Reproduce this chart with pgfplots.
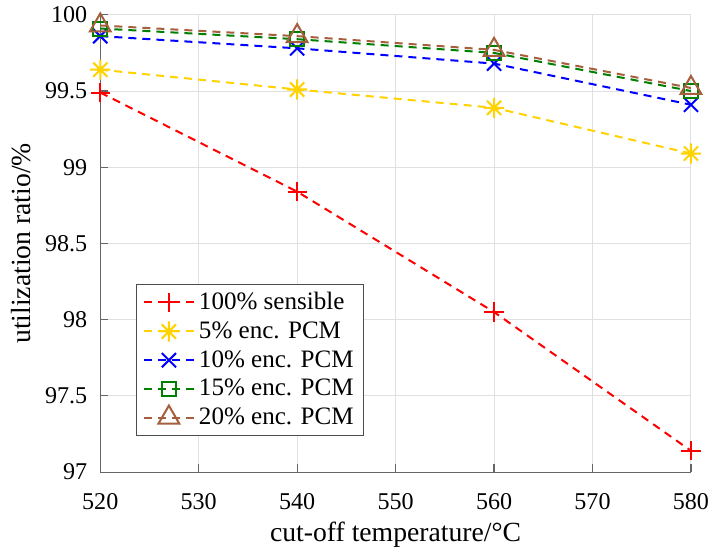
\documentclass[border=0pt]{standalone}
\usepackage{fontspec}
\setmainfont{Liberation Serif}
\usepackage{pgfplots}
\pgfplotsset{compat=1.18}
\definecolor{mred}{RGB}{255,0,0}
\definecolor{myel}{RGB}{255,210,0}
\definecolor{mblue}{RGB}{0,0,255}
\definecolor{mgreen}{RGB}{0,128,0}
\definecolor{mbrown}{RGB}{165,95,60}
\pgfdeclareplotmark{mstar}{%
  \pgfpathmoveto{\pgfqpoint{-\pgfplotmarksize}{0pt}}\pgfpathlineto{\pgfqpoint{\pgfplotmarksize}{0pt}}%
  \pgfpathmoveto{\pgfqpoint{0pt}{-\pgfplotmarksize}}\pgfpathlineto{\pgfqpoint{0pt}{\pgfplotmarksize}}%
  \pgfpathmoveto{\pgfqpoint{-0.707\pgfplotmarksize}{-0.707\pgfplotmarksize}}\pgfpathlineto{\pgfqpoint{0.707\pgfplotmarksize}{0.707\pgfplotmarksize}}%
  \pgfpathmoveto{\pgfqpoint{-0.707\pgfplotmarksize}{0.707\pgfplotmarksize}}\pgfpathlineto{\pgfqpoint{0.707\pgfplotmarksize}{-0.707\pgfplotmarksize}}%
  \pgfusepathqstroke}
\begin{document}
\begin{tikzpicture}
\begin{axis}[
  scale only axis,
  width=294.5pt, height=228pt,
  xmin=520, xmax=580, ymin=97, ymax=100,
  xtick={520,530,...,580},
  ytick={97,97.5,98,98.5,99,99.5,100},
  yticklabels={97,97.5,98,98.5,99,99.5,100},
  axis x line=bottom, axis y line=left,
  axis line style={-, draw=black!60, line width=0.6pt},
  tick align=inside,
  major tick length=4pt,
  tick style={black!60, line width=0.6pt},
  grid=major,
  grid style={black!12, line width=0.5pt},
  font=\fontsize{12}{14}\selectfont,
  /pgf/number format/assume math mode=true,
  /pgf/number format/.cd, 1000 sep={}, /pgfplots/.cd,
  xticklabel style={yshift=-7pt, inner xsep=0pt},
  yticklabel style={xshift=-3pt},
  xlabel={cut-off temperature/\textdegree C},
  ylabel={utilization ratio/\%},
  xlabel style={font=\fontsize{13.8}{15}\selectfont, inner ysep=0pt, yshift=-2.8pt},
  ylabel style={font=\fontsize{13.8}{15}\selectfont, yshift=0pt},
  legend style={at={(0.061,0.079)}, anchor=south west, draw=black!70, line width=0.5pt,
    font=\fontsize{12.5}{14}\selectfont, row sep=0.5pt, inner xsep=3pt, inner ysep=2pt, cells={anchor=west}},
  legend image code/.code={\draw[mark repeat=2,mark phase=2] plot coordinates {(0pt,0pt) (12.5pt,0pt) (25pt,0pt)};},
  every axis plot/.append style={dash pattern=on 4pt off 3pt, line width=1pt, mark options={solid}},
]
\addplot[mred, mark=+, mark size=4.8pt] coordinates {(520,99.49) (540,98.84) (560,98.05) (580,97.14)};
\addlegendentry{100\% sensible}
\addplot[myel, mark=mstar, mark size=5pt] coordinates {(520,99.64) (540,99.51) (560,99.39) (580,99.09)};
\addlegendentry{5\% enc. PCM}
\addplot[mblue, mark=x, mark size=5pt] coordinates {(520,99.86) (540,99.78) (560,99.68) (580,99.41)};
\addlegendentry{10\% enc. PCM}
\addplot[mgreen, mark=square, mark size=3.5pt] coordinates {(520,99.91) (540,99.84) (560,99.75) (580,99.50)};
\addlegendentry{15\% enc. PCM}
\addplot[mbrown, mark=triangle, mark size=6pt] coordinates {(520,99.93) (540,99.86) (560,99.77) (580,99.52)};
\addlegendentry{20\% enc. PCM}
\end{axis}
\path (current axis.outer west) ++(-2.5pt,0pt);
\end{tikzpicture}
\end{document}
